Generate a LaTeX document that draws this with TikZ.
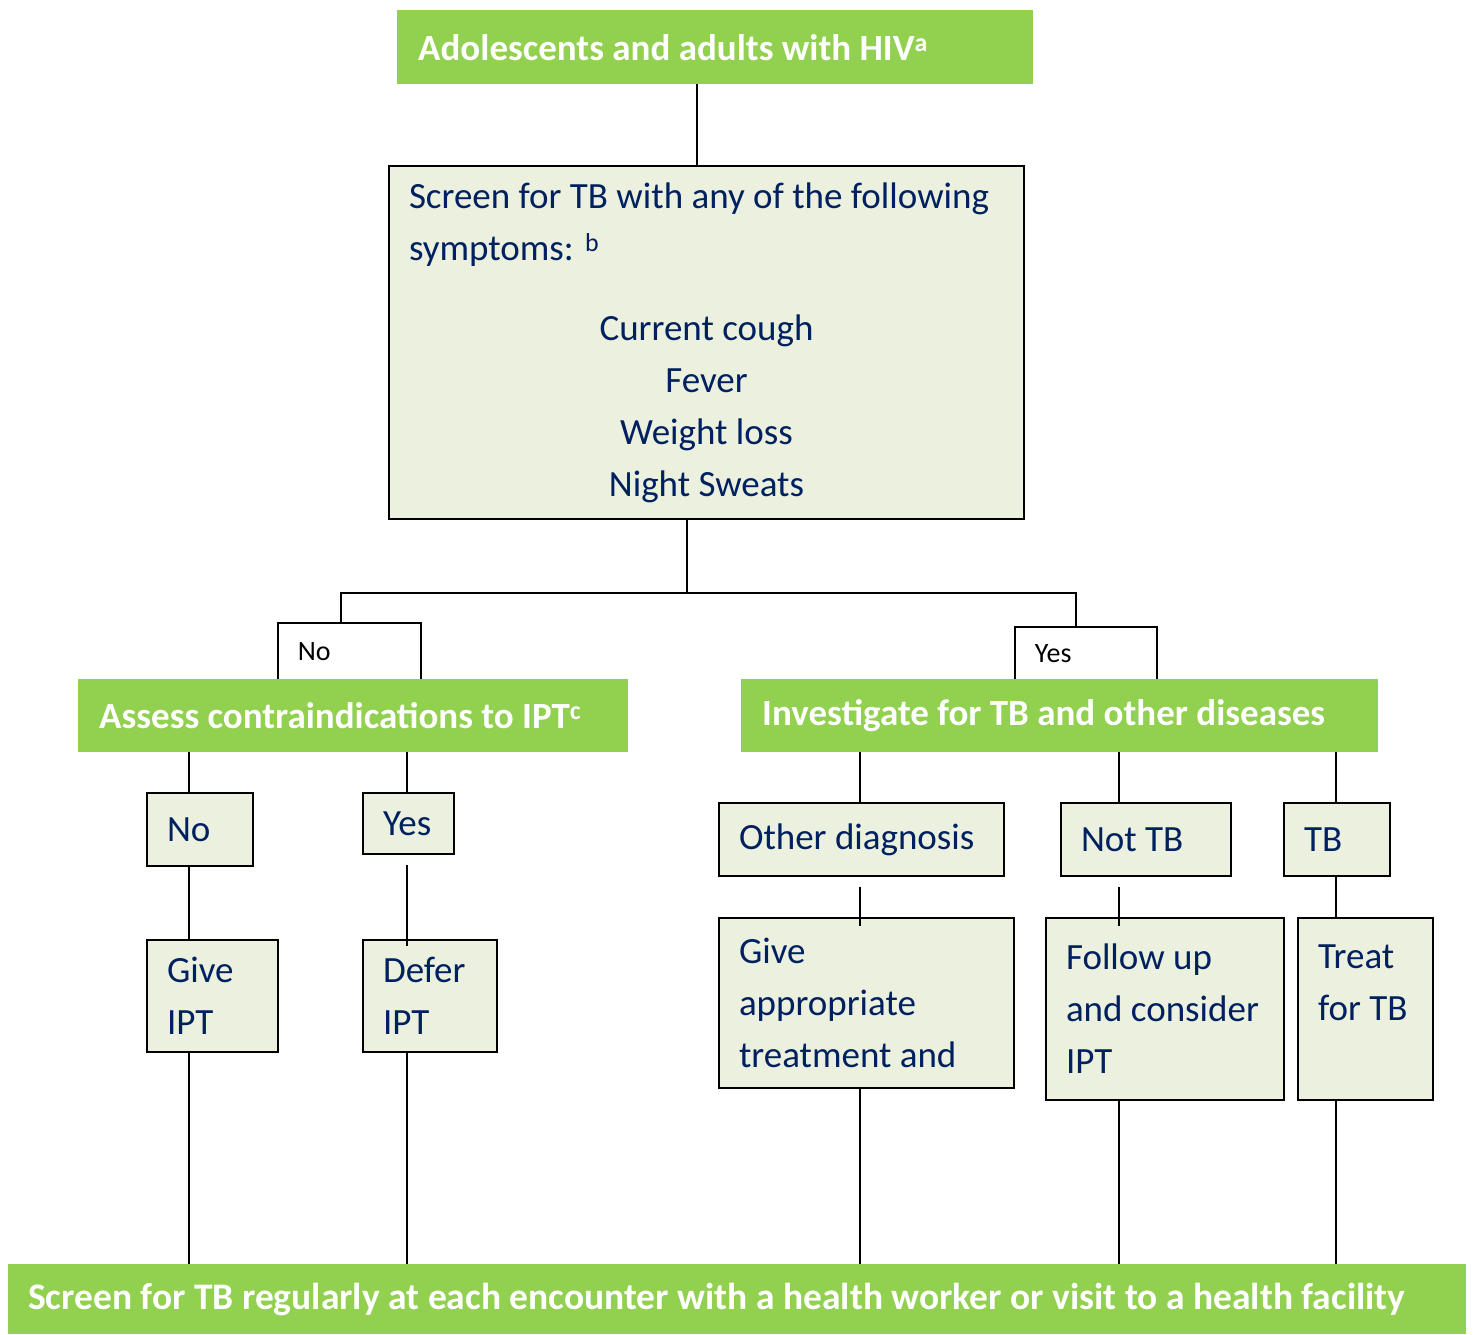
\documentclass[tikz,border=0pt]{standalone}
\usepackage{fontspec}
\setmainfont{Carlito}
\usetikzlibrary{positioning}
\definecolor{whoGreen}{RGB}{146,208,80}
\definecolor{whoPale}{RGB}{235,241,222}
\definecolor{whoNavy}{RGB}{0,32,96}

\begin{document}
\begin{tikzpicture}[x=1pt,y=-1pt,
  banner/.style={fill=whoGreen,text=white,anchor=north west,align=flush left,inner xsep=21pt,inner ysep=0pt,font=\fontsize{37}{44}\selectfont\bfseries},
  stepbox/.style={draw,line width=2pt,fill=whoPale,text=whoNavy,anchor=north west,align=flush left,inner xsep=20pt,inner ysep=0pt,font=\fontsize{37}{52}\selectfont},
  answer/.style={draw,line width=1.8pt,fill=white,anchor=north west,align=flush left,inner xsep=20pt,inner ysep=0pt,font=\fontsize{28}{34}\selectfont},
  link/.style={line width=2pt}]
  \useasboundingbox (0,0) rectangle (1473,1334);

  % top of the chart
  \node[banner,text width=594pt,minimum height=74pt] (hiv) at (397,10) {Adolescents and adults with HIV\textsuperscript{a}};
  \node[stepbox,text width=595pt,minimum height=353pt] (screen) at (388,165)
    {\mbox{Screen for TB with any of the following}\\symptoms: \textsuperscript{b}\par\vspace{28pt}%
     \centering Current cough\\Fever\\Weight loss\\Night Sweats\par};

  % the two answers
  \node[answer,text width=103pt,minimum height=57pt] (noLbl) at (277,622) {No};
  \node[answer,text width=102pt,minimum height=53pt] (yesLbl) at (1014,626) {Yes};
  \node[banner,text width=508pt,minimum height=73pt] (assess) at (78,679) {Assess contraindications to IPT\textsuperscript{c}};
  \node[banner,text width=595pt,minimum height=73pt] (invest) at (741,679) {Investigate for TB and other diseases};

  % left branch
  \node[stepbox,text width=66pt,minimum height=73pt] (noAns) at (146,792) {No};
  \node[stepbox,text width=51pt,minimum height=61pt] (yesAns) at (362,792) {Yes};
  \node[stepbox,text width=91pt,minimum height=112pt] (giveIpt) at (146,939) {Give\\IPT};
  \node[stepbox,text width=94pt,minimum height=112pt] (deferIpt) at (362,939) {Defer\\IPT};

  % right branch
  \node[stepbox,text width=245pt,minimum height=73pt] (otherDx) at (718,802) {Other diagnosis};
  \node[stepbox,text width=130pt,minimum height=73pt] (notTb) at (1060,802) {Not TB};
  \node[stepbox,text width=66pt,minimum height=73pt] (isTb) at (1283,802) {TB};
  \node[stepbox,text width=255pt,minimum height=170pt] (treatOther) at (718,917) {Give\\appropriate\\treatment and};
  \node[stepbox,text width=198pt,minimum height=182pt] (followUp) at (1045,917) {Follow up\\and consider\\IPT};
  \node[stepbox,text width=95pt,minimum height=182pt] (treatTb) at (1297,917) {Treat\\for TB\\\mbox{}};

  % bottom
  \node[banner,text width=1418pt,minimum height=70pt,inner xsep=20pt,font=\fontsize{37.5}{44}\selectfont\bfseries] (rescreen) at (8,1264)
    {\mbox{Screen for TB regularly at each encounter with a health worker or visit to a health facility}};

  \coordinate (trunk) at (697,0);
  \coordinate (fork) at (687,593);
  \coordinate (noArm) at (341,593);
  \coordinate (yesArm) at (1076,593);
  \coordinate (colA) at (189,0);
  \coordinate (colB) at (407,0);
  \coordinate (colC) at (860,0);
  \coordinate (colD) at (1119,0);
  \coordinate (colE) at (1336,0);

  \draw[link] (hiv.south -| trunk) -- (screen.north -| trunk);
  \draw[link] (screen.south -| fork) -- (fork);
  \draw[link] (noLbl.north -| noArm) -- (noArm) -- (yesArm) -- (yesLbl.north -| yesArm);

  \draw[link] (assess.south -| colA) -- (noAns.north -| colA);
  \draw[link] (noAns.south -| colA) -- (giveIpt.north -| colA);
  \draw[link] (giveIpt.south -| colA) -- (rescreen.north -| colA);
  \draw[link] (assess.south -| colB) -- (yesAns.north -| colB);
  \draw[link,shorten <=10pt,shorten >=-7pt] (yesAns.south -| colB) -- (deferIpt.north -| colB);
  \draw[link] (deferIpt.south -| colB) -- (rescreen.north -| colB);

  \draw[link] (invest.south -| colC) -- (otherDx.north -| colC);
  \draw[link,shorten <=10pt,shorten >=-9pt] (otherDx.south -| colC) -- (treatOther.north -| colC);
  \draw[link] (treatOther.south -| colC) -- (rescreen.north -| colC);
  \draw[link] (invest.south -| colD) -- (notTb.north -| colD);
  \draw[link,shorten <=10pt,shorten >=-9pt] (notTb.south -| colD) -- (followUp.north -| colD);
  \draw[link] (followUp.south -| colD) -- (rescreen.north -| colD);
  \draw[link] (invest.south -| colE) -- (isTb.north -| colE);
  \draw[link] (isTb.south -| colE) -- (treatTb.north -| colE);
  \draw[link] (treatTb.south -| colE) -- (rescreen.north -| colE);
\end{tikzpicture}
\end{document}
